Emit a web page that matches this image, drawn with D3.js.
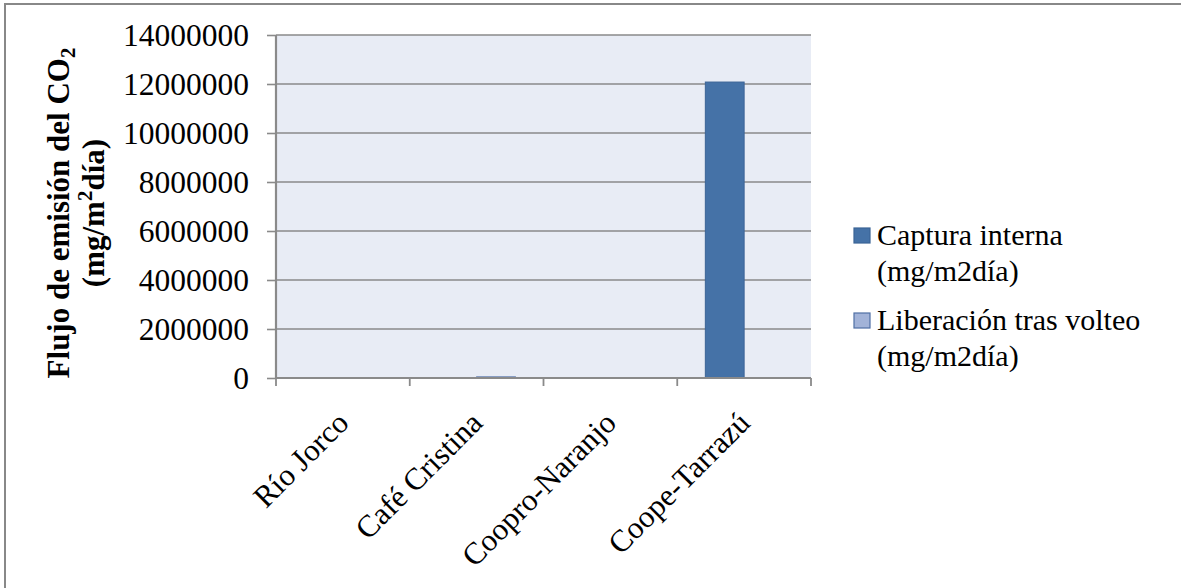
<!DOCTYPE html>
<html><head><meta charset="utf-8">
<script src="https://cdn.jsdelivr.net/npm/d3@7"></script>
<style>body{margin:0;background:#fff}svg{display:block}text{font-family:"Liberation Serif","Times New Roman",serif}</style>
</head><body>
<svg id="c" width="1181" height="588"></svg>
<script>
const categories = ["Río Jorco", "Café Cristina", "Coopro-Naranjo", "Coope-Tarrazú"];
const seriesNames = ["Captura interna", "Liberación tras volteo"];
const captura = [2500, 3500, 1800, 12080000];
const liberacion = [1200, 45000, 900, 2000];
const yTicks = [0, 2000000, 4000000, 6000000, 8000000, 10000000, 12000000, 14000000];
const colors = ["#4572A7", "#A2B3D8"];
const strokes = ["#3B6496", "#4F6FA5"];

const svg = d3.select("#c");
const W = 1181, H = 588;
const L = 276, R = 811, T = 35, B = 378;

// outer frame
svg.append("rect").attr("x", 5).attr("y", 4).attr("width", W + 10).attr("height", H + 10)
  .attr("fill", "#fff").attr("stroke", "#888").attr("stroke-width", 2);

const x0 = d3.scaleBand().domain(categories).range([L, R]).padding(0);
const bw = x0.bandwidth();
const x1 = d3.scaleBand().domain(seriesNames).range([bw * 0.21, bw * 0.79]).padding(0);
const y = d3.scaleLinear().domain([0, 14000000]).range([B, T]);

svg.append("rect").attr("x", L).attr("y", T).attr("width", R - L).attr("height", B - T).attr("fill", "#E8ECF5");

// gridlines
svg.append("g").selectAll("line").data(yTicks.filter(d => d > 0)).join("line")
  .attr("x1", L).attr("x2", R).attr("y1", d => y(d)).attr("y2", d => y(d))
  .attr("stroke", "#8a8a8a").attr("stroke-width", 1.6);

// bars
const data = categories.map((c, i) => ({c, vals: [captura[i], liberacion[i]]}));
const g = svg.append("g");
data.forEach(d => {
  d.vals.forEach((v, j) => {
    g.append("rect")
      .attr("x", x0(d.c) + x1(seriesNames[j]))
      .attr("width", x1.bandwidth())
      .attr("y", y(v))
      .attr("height", B - y(v))
      .attr("fill", colors[j]).attr("stroke", strokes[j]).attr("stroke-width", 1);
  });
});

// y axis
const ya = svg.append("g").attr("transform", `translate(${L},0)`)
  .call(d3.axisLeft(y).tickValues(yTicks).tickSize(9).tickPadding(18).tickFormat(d3.format("d")));
ya.select(".domain").attr("stroke", "#8a8a8a").attr("stroke-width", 2.2).attr("d", `M0,${T}V${B}`);
ya.selectAll(".tick line").attr("stroke", "#8a8a8a").attr("stroke-width", 1.6);
ya.selectAll(".tick text").attr("font-size", 31.5).attr("fill", "#000").attr("font-family", "Liberation Serif")
  .attr("dy", "0.33em");

// x axis
const xa = svg.append("g").attr("transform", `translate(0,${B})`);
xa.append("line").attr("x1", L).attr("x2", R).attr("stroke", "#8a8a8a").attr("stroke-width", 2.2);
const bounds = categories.map(c => x0(c)).concat([R]);
xa.selectAll("line.t").data(bounds).join("line").attr("class", "t")
  .attr("x1", d => d).attr("x2", d => d).attr("y1", 0).attr("y2", 8)
  .attr("stroke", "#8a8a8a").attr("stroke-width", 1.8);
xa.selectAll("text").data(categories).join("text")
  .attr("transform", d => `translate(${x0(d) + bw / 2},${39}) rotate(-45)`)
  .attr("text-anchor", "end").attr("font-size", 31).attr("dy", "0.35em").text(d => d);

// y title
const yt = svg.append("text").attr("transform", "translate(69,213) rotate(-90)")
  .attr("text-anchor", "middle").attr("font-size", 31).attr("font-weight", "bold");
yt.append("tspan").text("Flujo de emisión del CO");
yt.append("tspan").attr("font-size", 21).attr("dy", 6).text("2");
const yt2 = svg.append("text").attr("transform", "translate(104,213) rotate(-90)")
  .attr("text-anchor", "middle").attr("font-size", 31).attr("font-weight", "bold");
yt2.append("tspan").text("(mg/m");
yt2.append("tspan").attr("font-size", 21).attr("dy", -12).text("2");
yt2.append("tspan").attr("dy", 12).text("día)");

// legend
const legY = [228, 313];
seriesNames.forEach((s, i) => {
  svg.append("rect").attr("x", 854).attr("y", legY[i]).attr("width", 16).attr("height", 15)
    .attr("fill", colors[i]).attr("stroke", strokes[i]).attr("stroke-width", 1.2);
  const t = svg.append("text").attr("x", 877).attr("y", legY[i] + 17).attr("font-size", 30);
  t.append("tspan").attr("x", 877).text(s);
  t.append("tspan").attr("x", 877).attr("dy", 36).text("(mg/m2día)");
});
</script>
</body></html>
